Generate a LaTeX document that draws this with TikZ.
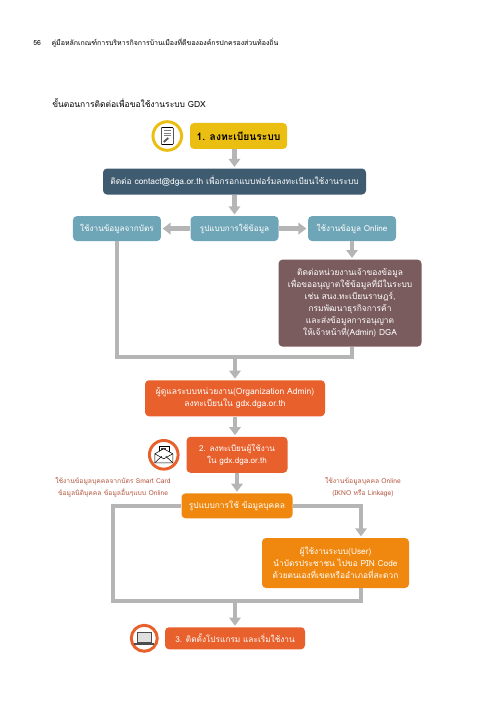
\documentclass[tikz,border=0pt]{standalone}
\usepackage{fontspec}
\setmainfont[Script=Thai]{Loma}
\usepackage{xcolor}
\usetikzlibrary{arrows.meta,positioning}
\definecolor{railgray}{HTML}{B5B5B5}
\definecolor{stepyellow}{HTML}{EBBE12}
\definecolor{navyblue}{HTML}{3F5B70}
\definecolor{tealblue}{HTML}{6FA6B7}
\definecolor{mauve}{HTML}{7B5C5E}
\definecolor{redorange}{HTML}{E8602C}
\definecolor{amber}{HTML}{F0880F}
\definecolor{notered}{HTML}{B5563F}
\begin{document}
\begin{tikzpicture}[x=.75pt,y=-.75pt,font=\fontsize{6.4pt}{9pt}\selectfont,
  box/.style={rounded corners=3pt,inner sep=0pt,align=center,text=white},
  stepbox/.style={box,fill=redorange},
  tealbox/.style={box,fill=tealblue,minimum width=66pt,minimum height=18.75pt,font=\fontsize{6.1pt}{9pt}\selectfont},
  ring/.style={circle,draw,line width=2.2pt,fill=white,inner sep=0pt,minimum size=21.5pt},
  note/.style={align=center,text=notered,font=\fontsize{5.05pt}{9pt}\selectfont},
  rail/.style={draw=railgray,line width=3.4pt},
  arr/.style={rail,-{Triangle[width=8.5pt,length=6pt]},shorten >=1pt}]
\useasboundingbox (0,0) rectangle (497,702);
% page head
\node[anchor=west,inner sep=0pt,font=\fontsize{5.2pt}{6pt}\selectfont] (pagenum) at (33,43) {56};
\node[right=7.5pt of pagenum,inner sep=0pt,font=\fontsize{5.25pt}{6pt}\selectfont] (headline) {คู่มือหลักเกณฑ์การบริหารกิจการบ้านเมืองที่ดีขององค์กรปกครองส่วนท้องถิ่น};
\node[anchor=west,inner sep=0pt,font=\fontsize{6.35pt}{8pt}\selectfont] (title) at (52,103) {ขั้นตอนการติดต่อเพื่อขอใช้งานระบบ GDX};
% upper part
\node[box,fill=stepyellow,text=black,minimum width=72.75pt,minimum height=19.5pt,font=\fontsize{7.7pt}{9pt}\bfseries\selectfont] (reg) at (238.5,136) {1. ลงทะเบียนระบบ};
\node[ring,draw=stepyellow,left=5pt of reg] (regicon) {};
\node[box,fill=navyblue,minimum width=197.25pt,minimum height=19.5pt,below=14.25pt of reg,xshift=-3pt,font=\fontsize{6.3pt}{9pt}\selectfont] (contact) {ติดต่อ contact@dga.or.th เพื่อกรอกแบบฟอร์มลงทะเบียนใช้งานระบบ};
\node[tealbox,below=15.75pt of contact] (mode) {รูปแบบการใช้ข้อมูล};
\node[tealbox,left=21.75pt of mode] (card) {ใช้งานข้อมูลจากบัตร};
\node[tealbox,right=21.75pt of mode] (online) {ใช้งานข้อมูล Online};
\node[box,fill=mauve,minimum width=107.25pt,minimum height=65.25pt,below=13.5pt of online,xshift=-1.5pt,font=\fontsize{6.3pt}{9pt}\selectfont] (owner) {ติดต่อหน่วยงานเจ้าของข้อมูล\\เพื่อขออนุญาตใช้ข้อมูลที่มีในระบบ\\เช่น สนง.ทะเบียนราษฎร์,\\กรมพัฒนาธุรกิจการค้า\\และส่งข้อมูลการอนุญาต\\ให้เจ้าหน้าที่(Admin) DGA};
\coordinate (join1) at (235,357);
% lower part
\node[stepbox,minimum width=135pt,minimum height=27pt,below=17.25pt of join1] (org) {ผู้ดูแลระบบหน่วยงาน(Organization Admin)\\ลงทะเบียนใน gdx.dga.or.th};
\node[stepbox,minimum width=75.75pt,minimum height=27pt,below=15pt of org,xshift=1.5pt,font=\fontsize{6.1pt}{9pt}\selectfont] (users) {2. ลงทะเบียนผู้ใช้งาน\\ใน gdx.dga.or.th};
\node[ring,draw=redorange,left=5pt of users] (usersicon) {};
\node[box,fill=amber,minimum width=83.25pt,minimum height=18.75pt,below=15pt of users,font=\fontsize{6.3pt}{9pt}\selectfont] (person) {รูปแบบการใช้ ข้อมูลบุคคล};
\node[note] (noteleft) at (113,487) {ใช้งานข้อมูลบุคคลจากบัตร Smart Card\\ข้อมูลนิติบุคคล ข้อมูลอื่นๆแบบ Online};
\node[note] (noteright) at (363,487) {ใช้งานข้อมูลบุคคล Online\\(IKNO หรือ Linkage)};
\node[box,fill=amber,minimum width=110.25pt,minimum height=37.5pt,font=\fontsize{6.25pt}{9pt}\selectfont] (pin) at (335.5,563) {ผู้ใช้งานระบบ(User)\\นำบัตรประชาชน ไปขอ PIN Code\\ด้วยตนเองที่เขตหรืออำเภอที่สะดวก};
\coordinate (join2) at (235,601);
\coordinate (railleft) at (113,601);
\coordinate (railright) at (361,601);
\node[stepbox,minimum width=105pt,minimum height=16.5pt,below=19.5pt of join2,font=\fontsize{6.2pt}{9pt}\selectfont] (install) {3. ติดตั้งโปรแกรม และเริ่มใช้งาน};
\node[ring,draw=redorange,minimum size=19.5pt,left=4.5pt of install] (installicon) {};
% connectors
\draw[arr] (reg.south -| contact.north) -- (contact.north);
\draw[arr] (contact) -- (mode);
\draw[arr] (mode) -- (card);
\draw[arr] (mode) -- (online);
\draw[arr] (online.south) -- (online.south |- owner.north);
\draw[rail] (card.south) -- (card.south |- join1) -- (online.south |- join1) -- (online.south |- owner.south);
\draw[arr] (join1) -- (org);
\draw[arr] (org.south) -- (org.south |- users.north);
\draw[arr] (users) -- (person);
\draw[rail] (person.west) -- (person.west -| railleft) -- (railleft) -- (railright) -- (railright |- pin.south);
\draw[arr] (person.east) -- (person.east -| railright) -- (railright |- pin.north);
\draw[arr] (join2) -- (install);
% icons
\begin{scope}[shift={(regicon)},line width=.4pt]
  \draw[fill=white,rounded corners=.5pt] (-6,-8.5) rectangle (6,8.5);
  \foreach \ly in {-5.5,-3,-.5} \draw[gray] (-3.5,\ly) -- (3.5,\ly);
  \draw[line width=1.4pt,gray!70!black] (-3.5,6) -- (1,2);
\end{scope}
\begin{scope}[shift={(usersicon)},line width=.4pt]
  \draw[fill=white] (-5,-2) -- (-5,-9) -- (5,-9) -- (5,-2);
  \fill[black!75] (-2.5,-7) rectangle (2.5,-1);
  \draw[fill=white,line join=round] (-9,-1) -- (0,-6) -- (9,-1) -- (9,8) -- (-9,8) -- cycle;
  \draw (-9,-1) -- (0,4) -- (9,-1);
  \draw (-9,8) -- (-2,1.5) (9,8) -- (2,1.5);
\end{scope}
\begin{scope}[shift={(installicon)},line width=.6pt]
  \draw[fill=gray!25,draw=black!70] (-7,-6) rectangle (7,4);
  \draw[line width=1.2pt,black!70] (-10,6) -- (10,6);
\end{scope}
\end{tikzpicture}
\end{document}
